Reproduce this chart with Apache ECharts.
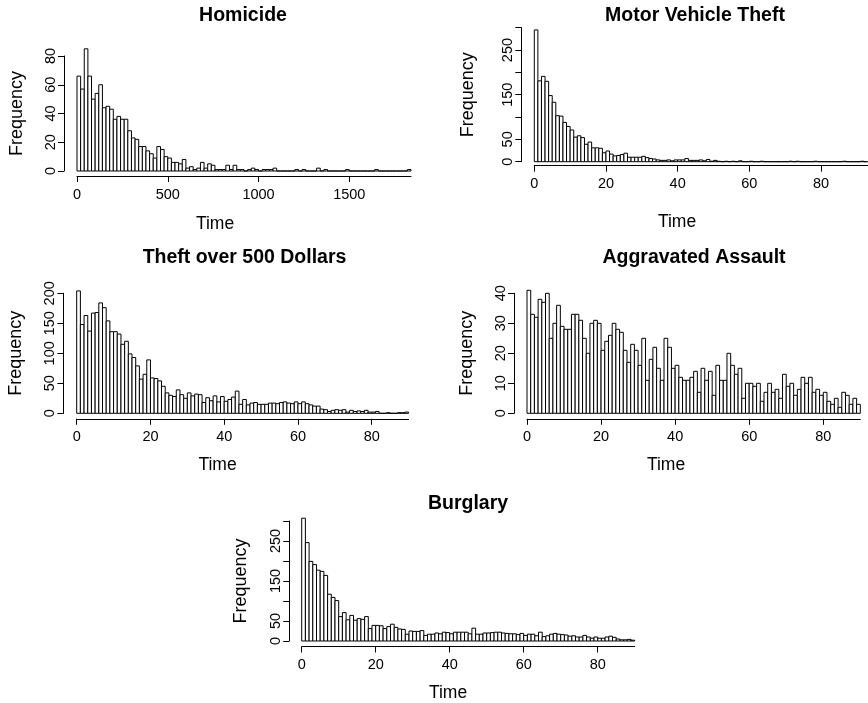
<!DOCTYPE html>
<html>
<head>
<meta charset="utf-8">
<script src="https://cdn.jsdelivr.net/npm/echarts@6/dist/echarts.min.js"></script>
<style>
  html, body { margin: 0; padding: 0; background: #fff; }
  #chart { width: 868px; height: 703px; }
</style>
</head>
<body>
<div id="chart"></div>
<script>
// histogram counts, one value per bin
var homicideBin = 20;
var homicideCounts = [66,57,85,66,50,54,60,44,45,43,
  36,38,36,36,28,23,22,17,17,14,
  12,9,17,15,10,9,6,6,5,8,
  2,3,1,2,6,2,5,4,1,1,
  1,4,1,4,1,1,0,1,2,1,
  0,1,1,1,2,0,0,0,0,0,
  1,0,1,0,0,0,2,0,1,0,
  0,0,0,0,1,0,0,0,0,0,
  0,0,1,0,0,0,0,0,0,0,
  0,1];

var motorBin = 1;
var motorCounts = [295,181,191,180,148,133,103,102,88,79,
  71,55,58,54,39,44,31,31,30,20,
  24,17,13,14,16,19,10,10,10,10,
  12,9,7,6,4,3,3,4,2,4,
  4,4,7,3,3,3,4,2,5,1,
  3,1,0,1,0,1,0,2,0,0,
  1,0,0,1,0,0,0,0,0,0,
  0,1,0,1,0,0,0,0,1,0,
  0,0,0,0,0,0,1,0,0,0,
  0,1,0];

var theftBin = 1;
var theftCounts = [204,148,163,137,167,168,184,176,154,136,
  136,132,115,120,99,93,79,57,65,89,
  59,58,54,45,34,30,28,39,31,25,
  34,29,32,31,18,26,21,29,19,28,
  20,23,27,37,15,23,14,17,18,15,
  15,15,17,17,16,18,19,17,16,19,
  16,19,16,14,12,12,7,6,3,5,
  6,5,6,2,5,3,4,3,5,2,
  2,3,0,0,1,0,0,1,1,2];

var assaultBin = 1;
var assaultCounts = [41,33,32,38,37,40,25,30,36,29,
  28,28,33,33,31,25,20,30,31,30,
  21,24,26,30,28,27,21,17,23,21,
  16,25,11,18,22,15,11,25,22,15,
  16,12,11,11,12,14,7,15,11,14,
  6,16,11,11,20,16,13,15,5,10,
  10,9,10,4,7,10,7,8,5,13,
  9,10,6,8,12,10,12,7,8,6,
  7,4,3,5,2,7,6,3,5,3];

var burglaryBin = 1;
var burglaryCounts = [307,246,199,191,177,174,164,117,109,101,
  61,71,53,64,52,56,54,61,31,39,
  39,38,31,36,42,34,30,29,17,25,
  24,24,26,14,17,17,20,18,22,21,
  18,22,22,22,22,18,32,17,17,20,
  20,21,22,22,20,19,18,18,16,19,
  14,17,17,13,22,11,13,17,19,17,
  16,15,12,13,10,10,14,10,7,10,
  7,7,10,12,9,5,3,3,4,2];

// tick labels
var homicideXTicks = [0, 500, 1000, 1500];
var dayXTicks = [0, 20, 40, 60, 80];
var homicideYTicks = [0, 20, 40, 60, 80];
var motorYTicks = [0, 50, 100, 150, 200, 250, 300];
var motorYLabels = [0, 50, 150, 250];
var theftYTicks = [0, 50, 100, 150, 200];
var assaultYTicks = [0, 10, 20, 30, 40];
var burglaryYTicks = [0, 50, 100, 150, 200, 250, 300];
var burglaryYLabels = [0, 50, 150, 250];

var titles = ['Homicide', 'Motor Vehicle Theft', 'Theft over 500 Dollars', 'Aggravated Assault', 'Burglary'];

var FONT = '"Liberation Sans", Arial, Helvetica, sans-serif';

function bins(counts, width) {
  return counts.map(function (c, i) { return [i * width, (i + 1) * width, c]; });
}

var panels = [
  { title: titles[0], data: bins(homicideCounts, homicideBin), xmax: 1840, xticks: homicideXTicks,
    ymax: 80, yticks: homicideYTicks, ylabels: homicideYTicks,
    grid: { left: 77, top: 56, width: 334, height: 115 }, xoff: 5, yoff: 13, gap: 38,
    titleX: 243, titleY: 6, timeX: 215, timeY: 215 },
  { title: titles[1], data: bins(motorCounts, motorBin), xmax: 93, xticks: dayXTicks,
    ymax: 300, yticks: motorYTicks, ylabels: motorYLabels,
    grid: { left: 534.3, top: 27.7, width: 333.3, height: 134 }, xoff: 4, yoff: 13, gap: 44,
    titleX: 695, titleY: 6, timeX: 677, timeY: 213 },
  { title: titles[2], data: bins(theftCounts, theftBin), xmax: 90, xticks: dayXTicks,
    ymax: 200, yticks: theftYTicks, ylabels: theftYTicks,
    grid: { left: 76.7, top: 293.3, width: 331.9, height: 120 }, xoff: 5.5, yoff: 13.3, gap: 38,
    titleX: 244.5, titleY: 248, timeX: 217.5, timeY: 456 },
  { title: titles[3], data: bins(assaultCounts, assaultBin), xmax: 90, xticks: dayXTicks,
    ymax: 40, yticks: assaultYTicks, ylabels: assaultYTicks,
    grid: { left: 527, top: 293.3, width: 333.3, height: 120 }, xoff: 5.5, yoff: 13, gap: 38,
    titleX: 694, titleY: 248, timeX: 666, timeY: 456 },
  { title: titles[4], data: bins(burglaryCounts, burglaryBin), xmax: 90, xticks: dayXTicks,
    ymax: 300, yticks: burglaryYTicks, ylabels: burglaryYLabels,
    grid: { left: 301.7, top: 521, width: 333, height: 120 }, xoff: 5.5, yoff: 12.5, gap: 39,
    titleX: 468, titleY: 494, timeX: 448, timeY: 684 }
];

var option = { animation: false, backgroundColor: '#fff', title: [], grid: [], xAxis: [], yAxis: [], series: [] };

function plain(v) { return String(v); }

panels.forEach(function (p, i) {
  option.title.push({
    text: p.title, left: p.titleX, top: p.titleY, textAlign: 'center', padding: 0,
    textStyle: { fontFamily: FONT, fontWeight: 'bold', fontSize: 19.5, color: '#000' }
  });
  option.title.push({
    text: 'Time', left: p.timeX, top: p.timeY, textAlign: 'center', padding: 0,
    textStyle: { fontFamily: FONT, fontWeight: 'normal', fontSize: 17.5, color: '#000' }
  });
  option.grid.push(Object.assign({ containLabel: false, show: false }, p.grid));
  option.xAxis.push({
    type: 'value', gridIndex: i, min: 0, max: p.xmax, offset: p.xoff, position: 'bottom',
    splitLine: { show: false },
    axisLine: { show: true, onZero: false, lineStyle: { color: '#000', width: 1 } },
    axisTick: { show: true, length: 6, lineStyle: { color: '#000', width: 1 }, customValues: p.xticks },
    axisLabel: { color: '#000', fontFamily: FONT, fontSize: 14.5, margin: 11, formatter: plain, customValues: p.xticks }
  });
  option.yAxis.push({
    type: 'value', gridIndex: i, min: 0, max: p.ymax, offset: p.yoff, position: 'left',
    name: 'Frequency', nameLocation: 'middle', nameRotate: 90, nameGap: p.gap,
    nameTextStyle: { fontFamily: FONT, fontSize: 18, color: '#000' },
    splitLine: { show: false },
    axisLine: { show: true, onZero: false, lineStyle: { color: '#000', width: 1 } },
    axisTick: { show: true, length: 6, lineStyle: { color: '#000', width: 1 }, customValues: p.yticks },
    axisLabel: { color: '#000', fontFamily: FONT, fontSize: 14.5, rotate: 90, margin: 6, formatter: plain, customValues: p.ylabels }
  });
  option.series.push({
    type: 'custom', xAxisIndex: i, yAxisIndex: i, clip: false,
    encode: { x: [0, 1], y: 2 },
    data: p.data,
    renderItem: function (params, api) {
      var lo = api.coord([api.value(0), 0]);
      var hi = api.coord([api.value(1), api.value(2)]);
      return {
        type: 'rect',
        shape: { x: lo[0], y: hi[1], width: hi[0] - lo[0], height: lo[1] - hi[1] },
        style: { fill: '#fff', stroke: '#000', lineWidth: 1 }
      };
    }
  });
});

var chart = echarts.init(document.getElementById('chart'));
chart.setOption(option);
</script>
</body>
</html>
